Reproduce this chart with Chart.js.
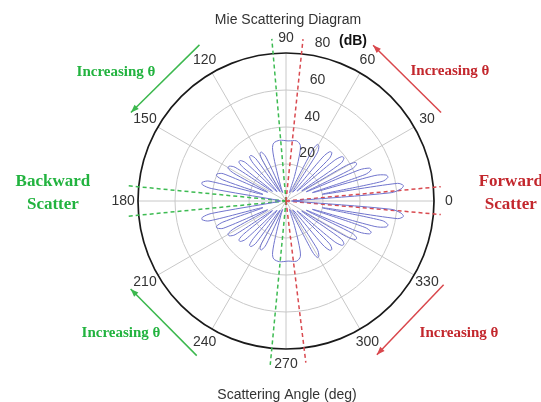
<!DOCTYPE html>
<html>
<head>
<meta charset="utf-8">
<script src="https://cdn.jsdelivr.net/npm/chart.js@4.4.0/dist/chart.umd.min.js"></script>
<style>
  html, body { margin: 0; padding: 0; background: #fff; }
</style>
</head>
<body>
<canvas id="chart" width="541" height="402"></canvas>
<script>
// Mie curve, upper half (0..180 deg) and lower half (180..360 deg), values in dB
const upperAngles = [0, 4.5, 6, 7.5, 9, 10.5, 11.5, 13, 14.5, 16, 17.5, 18.5, 20, 21.5, 23, 24.5, 26, 27.5, 29, 30.5,
    32.5, 34.5, 36.5, 38.5, 40, 42, 44.5, 46.5, 48.5, 50, 53, 57, 59, 61, 62.5, 66, 71, 73.5, 75.5, 80, 88, 96,
    102, 104.5, 106.5, 110, 112, 114.5, 116.5, 118.5, 120, 123, 125.5, 127.5, 129.5, 131, 134, 136.5, 138.5, 140.5,
    142, 144.5, 146.5, 148.5, 150.5, 152, 154.5, 156.5, 158.5, 160, 161.5, 164, 165.5, 167.5, 169, 170.5, 174, 180];
const upperDb = [3, 57, 62.5, 64, 61, 20, 53, 56.5, 56, 50, 15, 45, 49, 48.5, 43, 12, 40, 43, 43, 38,
    10, 36, 39, 38.5, 34, 8, 33, 36, 35.5, 31, 6, 31, 34.5, 35, 31, 5, 14, 25, 31, 33, 32.5, 33,
    32, 29, 20, 8, 5, 26, 29.5, 29.5, 26, 6, 28, 31, 31, 27, 7, 30, 33, 33,
    29, 9, 33, 36, 36, 32, 11, 37, 40, 40, 36, 13, 43, 46.5, 46, 41, 5, 3];
const lowerAngles = [180, 186, 189.5, 191, 192.5, 194.5, 196, 198.5, 200, 201.5, 203.5, 205.5, 208, 209.5, 211.5, 213.5,
    215.5, 218, 219.5, 221.5, 223.5, 226, 229, 230.5, 232.5, 234.5, 237, 240, 241.5, 243.5, 245.5, 248, 250,
    253.5, 255.5, 258, 264, 272, 280, 284.5, 286.5, 289, 294, 297.5, 299, 301, 303, 307, 310, 311.5, 313.5, 315.5,
    318, 320, 321.5, 323.5, 325.5, 327.5, 329.5, 331, 332.5, 334, 335.5, 337, 338.5, 340, 341.5, 342.5,
    344, 345.5, 347, 348.5, 349.5, 351, 352.5, 354, 355.5, 360];
const lowerDb = [3, 5, 41, 46, 46.5, 43, 13, 36, 40, 40, 37, 11, 32, 36, 36, 33,
    9, 29, 33, 33, 30, 7, 27, 31, 31, 28, 6, 26, 29.5, 29.5, 26, 5, 8,
    20, 29, 32, 33, 32.5, 33, 31, 25, 14, 5, 31, 35, 34.5, 31, 6, 31, 35.5, 36, 33,
    8, 34, 38.5, 39, 36, 10, 38, 43, 43, 40, 12, 43, 48.5, 49, 45, 15,
    50, 56, 56.5, 53, 20, 61, 64, 62.5, 57, 3];

// dashed guide lines (angle in deg, length in dB)
const greenAngles = [95, 174.5, 185.5, 264.5];
const greenLengths = [88, 87, 87, 89];
const redAngles = [84, 5.3, 355, 277];
const redLengths = [88, 84, 84, 88];

const angleTicks = [0, 30, 60, 90, 120, 150, 180, 210, 240, 270, 300, 330];
const radialTicks = [20, 40, 60, 80];
const rMax = 80;

// arrows: start angle, end angle (head), radius in dB
const arrowStart = [119, 29.7, 240, 332];
const arrowEnd = [150.3, 60.8, 209.5, 300.6];
const arrowColors = ['#3cb84e', '#d9474c', '#3cb84e', '#d9474c'];
const arrowRadius = 96.5;

const GREEN = '#22b33f';
const RED = '#c3272d';

function toXY(deg, db) {
    const a = deg * Math.PI / 180;
    return {x: db * Math.cos(a), y: db * Math.sin(a)};
}

function rays(angles, lengths) {
    const pts = [];
    angles.forEach((a, i) => {
        pts.push({x: 0, y: 0});
        pts.push(toXY(a, lengths[i]));
        pts.push({x: null, y: null});
    });
    return pts;
}

const curve = upperAngles.map((a, i) => toXY(a, upperDb[i]))
    .concat(lowerAngles.map((a, i) => toXY(a, lowerDb[i])));

const polarDecor = {
    id: 'polarDecor',
    beforeDatasetsDraw(chart) {
        const {ctx, scales: {x, y}} = chart;
        const cx = x.getPixelForValue(0), cy = y.getPixelForValue(0);
        const k = x.getPixelForValue(1) - cx;
        ctx.save();
        ctx.strokeStyle = '#c8c8c8';
        ctx.lineWidth = 1;
        // spokes
        angleTicks.forEach(a => {
            const p = toXY(a, rMax);
            ctx.beginPath();
            ctx.moveTo(cx, cy);
            ctx.lineTo(x.getPixelForValue(p.x), y.getPixelForValue(p.y));
            ctx.stroke();
        });
        // rings
        radialTicks.slice(0, -1).forEach(r => {
            ctx.beginPath();
            ctx.arc(cx, cy, r * k, 0, Math.PI * 2);
            ctx.stroke();
        });
        ctx.strokeStyle = '#1a1a1a';
        ctx.lineWidth = 1.7;
        ctx.beginPath();
        ctx.arc(cx, cy, rMax * k, 0, Math.PI * 2);
        ctx.stroke();
        ctx.restore();
    },
    afterDatasetsDraw(chart) {
        const {ctx, scales: {x, y}} = chart;
        const cx = x.getPixelForValue(0);
        const px = p => [x.getPixelForValue(p.x), y.getPixelForValue(p.y)];
        ctx.save();
        ctx.textAlign = 'center';
        ctx.textBaseline = 'middle';
        ctx.fillStyle = '#333';
        ctx.font = '14px "Liberation Sans", Arial, sans-serif';
        angleTicks.forEach(a => {
            const [lx, ly] = px(toXY(a, 88));
            ctx.fillText(String(a), lx, ly);
        });
        radialTicks.forEach(r => {
            const [lx, ly] = px(toXY(82, r));
            ctx.fillText(String(r), lx + 16, ly - 11);
        });
        ctx.font = 'bold 14px "Liberation Sans", Arial, sans-serif';
        ctx.fillStyle = '#111';
        ctx.fillText('(dB)', 353, 41);
        ctx.font = '14px "Liberation Sans", Arial, sans-serif';
        ctx.fillStyle = '#333';
        ctx.fillText('Mie Scattering Diagram', cx + 2, 20);
        ctx.fillText('Scattering Angle (deg)', cx + 1, 395);

        // arrows
        arrowStart.forEach((a0, i) => {
            const [x0, y0] = px(toXY(a0, arrowRadius));
            const [x1, y1] = px(toXY(arrowEnd[i], arrowRadius));
            ctx.strokeStyle = arrowColors[i];
            ctx.fillStyle = arrowColors[i];
            ctx.lineWidth = 1.5;
            ctx.beginPath();
            ctx.moveTo(x0, y0);
            ctx.lineTo(x1, y1);
            ctx.stroke();
            const ang = Math.atan2(y1 - y0, x1 - x0);
            ctx.beginPath();
            ctx.moveTo(x1, y1);
            ctx.lineTo(x1 - 8 * Math.cos(ang) + 3 * Math.sin(ang), y1 - 8 * Math.sin(ang) - 3 * Math.cos(ang));
            ctx.lineTo(x1 - 8 * Math.cos(ang) - 3 * Math.sin(ang), y1 - 8 * Math.sin(ang) + 3 * Math.cos(ang));
            ctx.closePath();
            ctx.fill();
        });

        // annotations
        ctx.font = 'bold 15px "Liberation Serif", "Times New Roman", serif';
        const notes = [
            ['Increasing \u03b8', -91.9, 69.7, GREEN],
            ['Increasing \u03b8', 88.6, 70.3, RED],
            ['Increasing \u03b8', -89.2, -71.4, GREEN],
            ['Increasing \u03b8', 93.5, -71.4, RED]
        ];
        notes.forEach(([t, nx, ny, c]) => {
            ctx.fillStyle = c;
            ctx.fillText(t, x.getPixelForValue(nx), y.getPixelForValue(ny));
        });
        ctx.font = 'bold 17px "Liberation Serif", "Times New Roman", serif';
        ctx.fillStyle = GREEN;
        ctx.fillText('Backward', x.getPixelForValue(-126), y.getPixelForValue(10.3));
        ctx.fillText('Scatter', x.getPixelForValue(-126), y.getPixelForValue(-2.2));
        ctx.fillStyle = RED;
        ctx.fillText('Forward', x.getPixelForValue(121.5), y.getPixelForValue(10.3));
        ctx.fillText('Scatter', x.getPixelForValue(121.5), y.getPixelForValue(-2.2));
        ctx.restore();
    }
};

const ctx = document.getElementById('chart').getContext('2d');
new Chart(ctx, {
    type: 'scatter',
    data: {
        datasets: [
            {
                label: 'Mie',
                data: curve,
                showLine: true,
                borderColor: '#7074cd',
                borderWidth: 1,
                pointRadius: 0,
                tension: 0.3
            },
            {
                label: 'forward',
                data: rays(redAngles, redLengths),
                showLine: true,
                borderColor: '#d94a50',
                borderWidth: 1.5,
                borderDash: [4, 3],
                pointRadius: 0
            },
            {
                label: 'backward',
                data: rays(greenAngles, greenLengths),
                showLine: true,
                borderColor: '#3dbb52',
                borderWidth: 1.5,
                borderDash: [4, 3],
                pointRadius: 0
            }
        ]
    },
    options: {
        responsive: false,
        animation: false,
        clip: false,
        layout: {padding: {left: 138, right: 107, top: 53, bottom: 53}},
        plugins: {legend: {display: false}, tooltip: {enabled: false}},
        scales: {
            x: {type: 'linear', min: -rMax, max: rMax, display: false},
            y: {type: 'linear', min: -rMax, max: rMax, display: false}
        }
    },
    plugins: [polarDecor]
});
</script>
</body>
</html>
